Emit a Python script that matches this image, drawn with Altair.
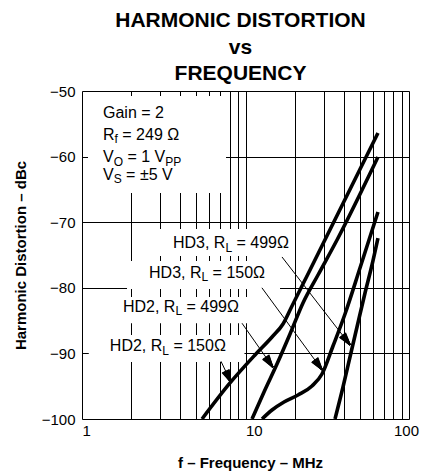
import math
import altair as alt
import pandas as pd

W, H = 327, 328
FONT = "Liberation Sans"

# ---- curves (frequency MHz, distortion dBc) ----
hd2_150_f = [5.42, 8.04, 11.43, 14.53, 16.96, 19.25, 24.8, 64.6]
hd2_150_db = [-100, -94.5, -90.24, -87.5, -85.52, -82.77, -77.29, -56.4]
hd2_499_f = [10.96, 12.98, 15.58, 18.72, 22.47, 27.76, 36.28, 64.6]
hd2_499_db = [-100, -95.88, -91.62, -87.04, -82.32, -78.05, -72.71, -60.06]
hd3_150_f = [12.62, 14.53, 17.20, 20.95, 25.51, 29.37, 34.29, 40.61, 50.15, 64.6]
hd3_150_db = [-100, -98.63, -97.41, -96.34, -94.97, -93.14, -88.87, -83.99, -76.98, -68.45]
hd3_499_f = [35.27, 39.48, 43.56, 48.08, 53.82, 59.37, 64.6]
hd3_499_db = [-100, -95.12, -90.55, -85.98, -80.79, -76.52, -72.41]

series_names = ["HD2 150", "HD2 499", "HD3 150", "HD3 499"]
series_f = [hd2_150_f, hd2_499_f, hd3_150_f, hd3_499_f]
series_db = [hd2_150_db, hd2_499_db, hd3_150_db, hd3_499_db]

# ---- axis ticks ----
x_grid = [1, 2, 3, 4, 5, 6, 7, 8, 9, 10, 20, 30, 40, 50, 60, 70, 80, 90, 100]
x_labels = [1, 10, 100]
y_ticks = [-100, -90, -80, -70, -60, -50]

# ---- annotation text (segments: text, is_subscript) ----
cond_f = 1.344
cond_db = [-53.35, -56.7, -60.1, -62.8]
cond_segs = [
    [("Gain = 2", False)],
    [("R", False), ("f", True), (" = 249 Ω", False)],
    [("V", False), ("O", True), (" = 1 V", False), ("PP", True)],
    [("V", False), ("S", True), (" = ±5 V", False)],
]
label_f = [3.60, 2.57, 1.78, 1.48]
label_db = [-73.2, -77.7, -82.9, -88.9]
label_segs = [
    [("HD3, R", False), ("L", True), (" = 499Ω", False)],
    [("HD3, R", False), ("L", True), (" = 150Ω", False)],
    [("HD2, R", False), ("L", True), (" = 499Ω", False)],
    [("HD2, R", False), ("L", True), (" = 150Ω", False)],
]

# white boxes behind the annotations (freq from/to, dB from/to)
box_f1 = [1.088, 2.605, 1.885, 1.59, 1.10]
box_f2 = [7.6, 19.25, 16.26, 10.66, 9.85]
box_db1 = [-50.76, -71.04, -75.9, -81.4, -87.2]
box_db2 = [-65.55, -75.15, -80.2, -85.4, -91.3]

# arrows (start -> tip)
arr_f1 = [16.72, 12.6, 9.52, 7.08]
arr_db1 = [-75.3, -80.0, -85.4, -91.2]
arr_f2 = [43.6, 29.4, 14.7, 8.15]
arr_db2 = [-88.7, -92.5, -92.1, -94.4]

MAIN, SUB = 16, 12
CW = {" ": .278, ",": .278, "=": .584, "±": .584, "G": .778, "a": .556, "i": .222,
      "n": .556, "R": .722, "f": .278, "V": .667, "O": .778, "P": .667, "S": .667,
      "H": .722, "D": .722, "L": .556, "Ω": .768}


def tw(s, size):
    return sum(CW.get(c, .556) for c in s) * size


main_rows, sub_rows = [], []


def add_line(f0, db0, segs):
    off = 0.0
    for txt, sub in segs:
        size = SUB if sub else MAIN
        stripped = txt.lstrip(" ")
        off += tw(txt[: len(txt) - len(stripped)], size)
        fx = f0 * 10 ** (off / (W / 2))
        (sub_rows if sub else main_rows).append({"f": fx, "db": db0, "t": stripped})
        off += tw(stripped, size)


for d, s in zip(cond_db, cond_segs):
    add_line(cond_f, d, s)
for f0, d, s in zip(label_f, label_db, label_segs):
    add_line(f0, d, s)

curve_rows = []
for n, fs, ds in zip(series_names, series_f, series_db):
    for i, (fv, dv) in enumerate(zip(fs, ds)):
        curve_rows.append({"s": n, "i": i, "f": fv, "db": dv})
curves = pd.DataFrame(curve_rows)

boxes = pd.DataFrame({"f": box_f1, "f2": box_f2, "db": box_db1, "db2": box_db2})
arrows = pd.DataFrame({"f": arr_f1, "db": arr_db1, "f2": arr_f2, "db2": arr_db2})

# arrowheads: a fan of short rules from the tip back to a flat base
HEAD_LEN, HEAD_W, FAN = 12.5, 7.5, 15


def shift(f, db, dx_px, dy_px):
    return f * 10 ** (dx_px / (W / 2)), db - dy_px * 50.0 / H


fan_rows = []
for a, b, c, d in zip(arr_f1, arr_db1, arr_f2, arr_db2):
    dx = (W / 2) * (math.log10(c) - math.log10(a))
    dy = (b - d) * H / 50.0
    L = math.hypot(dx, dy)
    ux, uy = dx / L, dy / L
    nx, ny = -uy, ux
    for k in range(FAN):
        t = (k / (FAN - 1) - 0.5) * HEAD_W
        px = -ux * HEAD_LEN + nx * t
        py = -uy * HEAD_LEN + ny * t
        bf, bdb = shift(c, d, px, py)
        fan_rows.append({"f": c, "db": d, "f2": bf, "db2": bdb})
fans = pd.DataFrame(fan_rows)

xscale = alt.Scale(type="log", domain=[1, 100], nice=False)
yscale = alt.Scale(domain=[-100, -50], nice=False)
label_expr = "indexof([1,10,100], datum.value) >= 0 ? datum.label : ''"

xaxis = alt.Axis(values=x_grid, labelExpr=label_expr, grid=True, gridColor="black",
                 gridWidth=1, gridOpacity=1, ticks=False, tickSize=0, domain=False,
                 labelAlign={"condition": {"test": "datum.value >= 100", "value": "center"},
                             "value": "left"},
                 labelOffset={"condition": {"test": "datum.value >= 100", "value": -3},
                              "value": 0},
                 labelFlush=False, labelPadding=4, labelOverlap=False,
                 labelFontSize=15, labelFont=FONT, labelColor="black", labelBound=False,
                 title="f – Frequency – MHz", titleFont=FONT, titleFontSize=15,
                 titleFontWeight="bold", titleColor="black", titleX=168, titleY=43,
                 titleBaseline="middle", titleAnchor="start", titleAlign="center")
yaxis = alt.Axis(values=y_ticks, grid=True, gridColor="black", gridWidth=1, gridOpacity=1,
                 ticks=False, tickSize=0, domain=False, labelPadding=7,
                 labelFontSize=15, labelFont=FONT, labelColor="black",
                 title="Harmonic Distortion – dBc", titleFont=FONT, titleFontSize=15,
                 titleFontWeight="bold", titleColor="black", titleX=-62,
                 titleBaseline="middle")


def X(field="f"):
    return alt.X(f"{field}:Q", scale=xscale, axis=xaxis)


def Y(field="db"):
    return alt.Y(f"{field}:Q", scale=yscale, axis=yaxis)


box_layer = alt.Chart(boxes).mark_rect(color="white", fill="white").encode(
    x=X(), x2="f2:Q", y=Y(), y2="db2:Q")

curve_layer = alt.Chart(curves).mark_line(
    color="black", strokeWidth=3.6, interpolate="monotone", strokeCap="butt", clip=True
).encode(x=X(), y=Y(), detail="s:N", order="i:Q")

arrow_layer = alt.Chart(arrows).mark_rule(color="black", strokeWidth=1).encode(
    x=X(), x2="f2:Q", y=Y(), y2="db2:Q")

head_layer = alt.Chart(fans).mark_rule(color="black", strokeWidth=1.4, strokeCap="butt").encode(
    x=X(), x2="f2:Q", y=Y(), y2="db2:Q")

text_main = alt.Chart(pd.DataFrame(main_rows)).mark_text(
    align="left", baseline="middle", font=FONT, fontSize=MAIN, color="black"
).encode(x=X(), y=Y(), text="t:N")

text_sub = alt.Chart(pd.DataFrame(sub_rows)).mark_text(
    align="left", baseline="middle", font=FONT, fontSize=SUB, color="black", dy=4.5
).encode(x=X(), y=Y(), text="t:N")

chart = alt.layer(box_layer, curve_layer, arrow_layer, head_layer, text_main, text_sub).properties(
    width=W, height=H,
    autosize=alt.AutoSizeParams(type="none"),
    padding={"left": 74, "top": 83, "right": 11, "bottom": 52},
    title=alt.TitleParams(["HARMONIC DISTORTION", "vs", "FREQUENCY"], font=FONT,
                          fontSize=21, fontWeight="bold", color="black", anchor="middle",
                          frame="group", lineHeight=26.5, offset=0, dx=-5),
).configure_view(stroke="black", strokeWidth=2.5).configure(background="white")

chart.save("out.html", embed_options={"renderer": "svg", "actions": False})
